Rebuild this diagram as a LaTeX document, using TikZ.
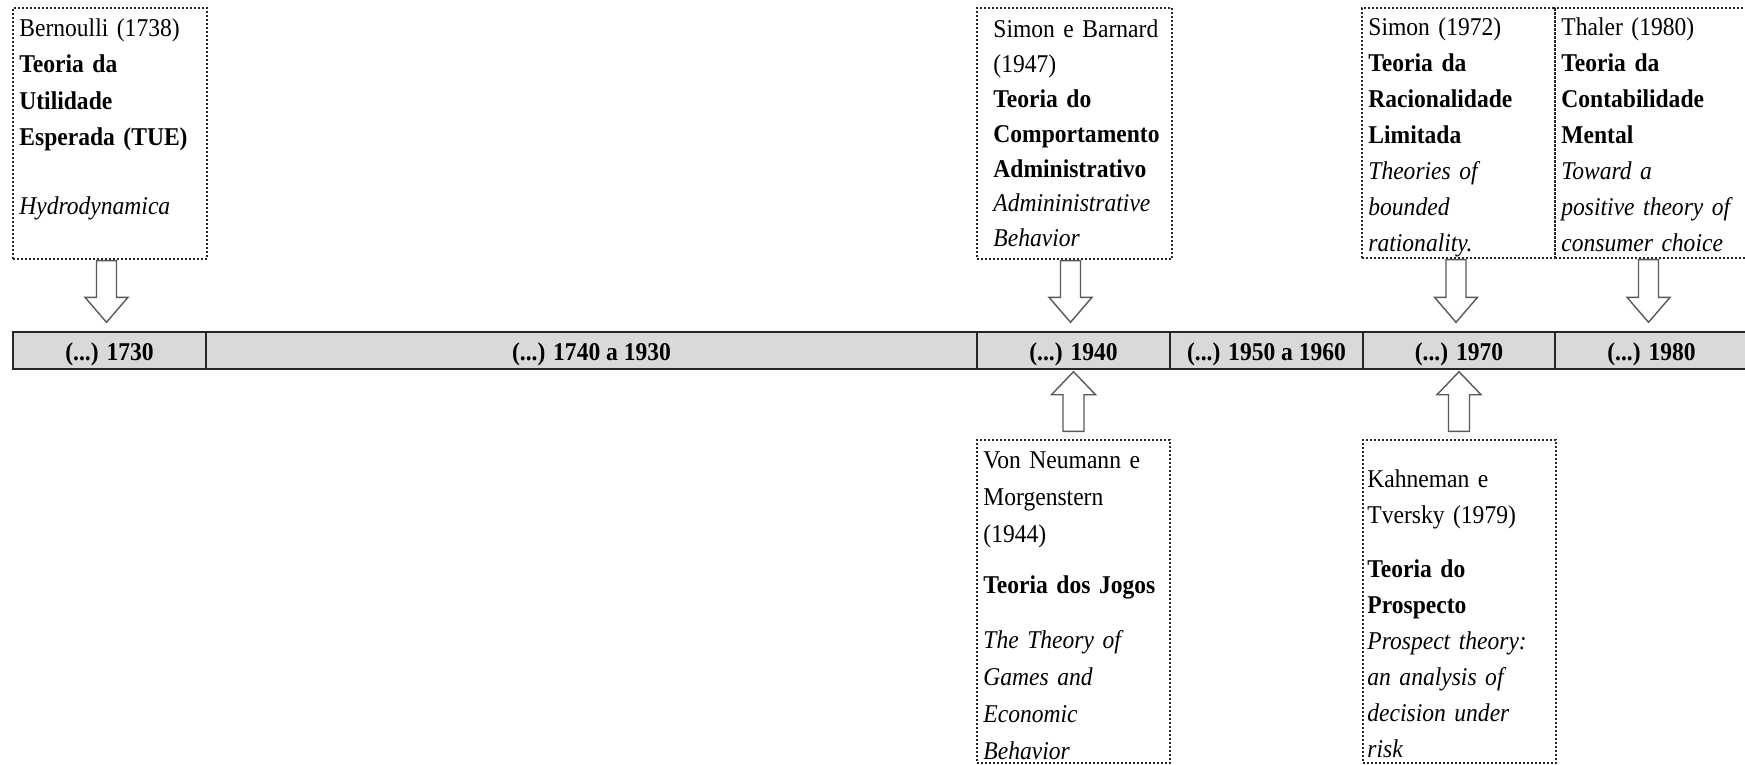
\documentclass[tikz,border=0pt]{standalone}
\usepackage{fontspec}
\setmainfont{Liberation Serif}[FakeStretch=0.92]
\usetikzlibrary{calc}

% block arrow pointing down, from the bottom of a box to the top of a cell
\newcommand\arrdown[2]{%
  \draw[blockarrow] let \p1=(#1.south), \p2=(#2.north) in
    (\x2-6.5pt,\y1-0.5pt) -- (\x2+3.5pt,\y1-0.5pt) -- (\x2+3.5pt,\y2+17pt)
    -- (\x2+9.25pt,\y2+17pt) -- (\x2-1.5pt,\y2+4.5pt) -- (\x2-12.25pt,\y2+17pt)
    -- (\x2-6.5pt,\y2+17pt) -- cycle;}
% block arrow pointing up, from the top of a box to the bottom of a cell
\newcommand\arrup[2]{%
  \draw[blockarrow] let \p1=(#1.north), \p2=(#2.south) in
    (\x2-5.25pt,\y1+4pt) -- (\x2+5.25pt,\y1+4pt) -- (\x2+5.25pt,\y2-12.5pt)
    -- (\x2+11pt,\y2-12.5pt) -- (\x2,\y2-1pt) -- (\x2-11pt,\y2-12.5pt)
    -- (\x2-5.25pt,\y2-12.5pt) -- cycle;}

\tikzset{
  cell/.style={draw=black!85, line width=0.7pt, fill=black!15,
    minimum height=18.5pt, inner sep=0pt, text height=10pt, text depth=0pt,
    font=\fontsize{12.8}{15}\selectfont\bfseries},
  dotbox/.style={draw=black!85, line width=0.6pt,
    dash pattern=on 0.9pt off 1.1pt, inner sep=0pt},
  boxtext/.style={anchor=base west, inner sep=0pt, text width=100pt,
    align=left, font=\fontsize{12.8}{#1}\selectfont},
  blockarrow/.style={draw=black!65, line width=0.7pt, fill=white,
    line join=miter},
}

\begin{document}
\begin{tikzpicture}[x=0.5pt,y=-0.5pt]
\useasboundingbox (0,0) rectangle (1745,765);
\clip (0,0) rectangle (1745,765);

% timeline bar
\node[cell, minimum width=96.5pt]  (c1) at (109.5,350.5)  {(...) 1730};
\node[cell, minimum width=385.5pt] (c2) at (591.5,350.5)  {(...) 1740 a 1930};
\node[cell, minimum width=96.5pt]  (c3) at (1073.5,350.5) {(...) 1940};
\node[cell, minimum width=96.5pt]  (c4) at (1266.5,350.5) {(...) 1950 a 1960};
\node[cell, minimum width=96pt]    (c5) at (1459,350.5)   {(...) 1970};
\node[cell, minimum width=96.5pt]  (c6) at (1651.5,350.5) {(...) 1980};

% frames above the bar
\node[dotbox, minimum width=97pt,   minimum height=125.5pt] (b1) at (110,133.5) {};
\node[dotbox, minimum width=97.5pt, minimum height=125.5pt] (b2) at (1074.5,133.5) {};
\node[dotbox, minimum width=96.5pt, minimum height=125pt]   (b3) at (1458.5,133) {};
\node[dotbox, minimum width=102.5pt, minimum height=125pt]  (b4) at (1657.5,133) {};
% frames below the bar
\node[dotbox, minimum width=96.5pt, minimum height=161.5pt] (b5) at (1073.5,601.5) {};
\node[dotbox, minimum width=96.5pt, minimum height=161.5pt] (b6) at (1459.5,601.5) {};

% texts
\node[boxtext=18.25pt] (t1) at (19,36.5) {Bernoulli (1738)\\
  \textbf{Teoria da}\\ \textbf{Utilidade}\\ \textbf{Esperada (TUE)}\\[16pt]
  \textit{Hydrodynamica}};
\node[boxtext=17.4pt] (t2) at (993,38) {Simon e Barnard\\ (1947)\\
  \textbf{Teoria do}\\ \textbf{Comportamento}\\ \textbf{Administrativo}\\
  \textit{Admininistrative}\\ \textit{Behavior}};
\node[boxtext=18pt] (t3) at (1368,36) {Simon (1972)\\
  \textbf{Teoria da}\\ \textbf{Racionalidade}\\ \textbf{Limitada}\\
  \textit{Theories of}\\ \textit{bounded}\\ \textit{rationality.}};
\node[boxtext=18pt] (t4) at (1561,36) {Thaler (1980)\\
  \textbf{Teoria da}\\ \textbf{Contabilidade}\\ \textbf{Mental}\\
  \textit{Toward a}\\ \textit{positive theory of}\\ \textit{consumer choice}};
\node[boxtext=18.5pt] (t5) at (983,468) {Von Neumann e\\ Morgenstern\\ (1944)\\[7pt]
  \textbf{Teoria dos Jogos}\\[9pt]
  \textit{The Theory of}\\ \textit{Games and}\\ \textit{Economic}\\ \textit{Behavior}};
\node[boxtext=18pt] (t6) at (1367,487) {Kahneman e\\ Tversky (1979)\\[9pt]
  \textbf{Teoria do}\\ \textbf{Prospecto}\\
  \textit{Prospect theory:}\\ \textit{an analysis of}\\ \textit{decision under}\\ \textit{risk}};

% block arrows
\arrdown{b1}{c1}
\arrdown{b2}{c3}
\arrdown{b3}{c5}
\arrdown{b4}{c6}
\arrup{b5}{c3}
\arrup{b6}{c5}
\end{tikzpicture}
\end{document}
